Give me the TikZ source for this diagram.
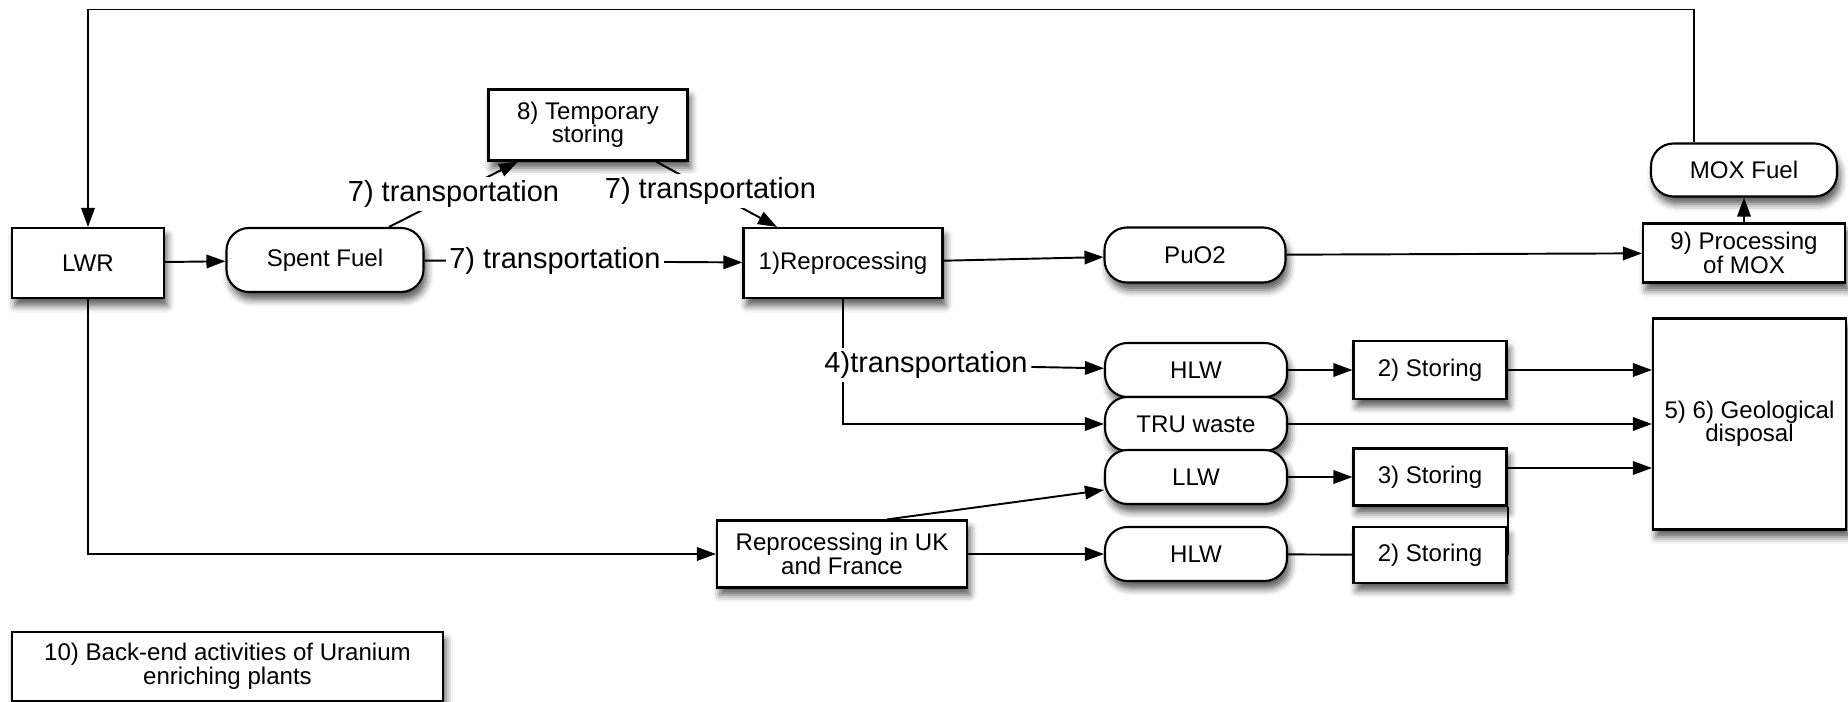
\documentclass[tikz,border=0pt]{standalone}
\usepackage{fontspec}
\setmainfont{Liberation Sans}
\usetikzlibrary{arrows.meta,shadows.blur}

\tikzset{
  box/.style={draw, fill=white, line width=1.2pt, align=center,
    font=\fontsize{13.7}{13.4}\selectfont,
    blur shadow={shadow xshift=0.06cm, shadow yshift=-0.15cm, shadow blur radius=0.14cm, shadow opacity=65}},
  pill/.style={box, rounded corners=0.45cm},
  lbl/.style={fill=white, inner sep=2pt, font=\fontsize{16.5}{18}\selectfont},
  flow/.style={line width=1.1pt, -{Triangle[length=0.38cm,width=0.27cm]}},
}

\begin{document}
\begin{tikzpicture}
        \useasboundingbox (0,0) rectangle (36.96,-14.04);
        % main line
        \node [box, minimum width=3.04cm, minimum height=1.4cm] (lwr) at (1.76,-5.26) {LWR};
        \node [pill, minimum width=3.94cm, minimum height=1.28cm] (sf) at (6.5,-5.2) {Spent Fuel};
        \node [box, minimum width=3.98cm, minimum height=1.42cm] (tmp) at (11.76,-2.5) {8) Temporary\\storing};
        \node [box, minimum width=3.98cm, minimum height=1.4cm] (rep) at (16.86,-5.26) {1)Reprocessing};
        \node [pill, minimum width=3.62cm, minimum height=1.1cm] (puo) at (23.9,-5.1) {PuO2};
        \node [box, minimum width=4.04cm, minimum height=1.18cm] (prc) at (34.88,-5.06) {9) Processing\\of MOX};
        \node [pill, minimum width=3.72cm, minimum height=1.06cm] (mox) at (34.88,-3.4) {MOX Fuel};
        % waste
        \node [box, minimum width=3.86cm, minimum height=4.22cm] (geo) at (34.99,-8.48) {5) 6) Geological\\disposal};
        \node [pill, minimum width=3.64cm, minimum height=1.08cm] (hlwa) at (23.92,-7.4) {HLW};
        \node [pill, minimum width=3.64cm, minimum height=1.08cm] (tru) at (23.92,-8.48) {TRU waste};
        \node [pill, minimum width=3.64cm, minimum height=1.08cm] (llw) at (23.92,-9.54) {LLW};
        \node [pill, minimum width=3.64cm, minimum height=1.08cm] (hlwb) at (23.92,-11.08) {HLW};
        \node [box, minimum width=3.06cm, minimum height=1.16cm] (stoa) at (28.6,-7.4) {2) Storing};
        \node [box, minimum width=3.06cm, minimum height=1.14cm] (stob) at (28.6,-9.54) {3) Storing};
        \node [box, minimum width=3.06cm, minimum height=1.12cm] (stoc) at (28.6,-11.1) {2) Storing};
        \node [box, minimum width=5cm, minimum height=1.34cm] (uk) at (16.84,-11.08) {Reprocessing in UK\\and France};
        \node [box, minimum width=8.62cm, minimum height=1.38cm] (bak) at (4.55,-13.33) {10) Back-end activities of Uranium\\enriching plants};

        \coordinate (loop) at (1.76,-0.19);
        \draw [flow] ([xshift=-1cm]mox.north) |- (loop) -- (lwr.north);
        \draw [flow] (lwr) -- (sf);
        \draw [flow] ([xshift=1.28cm]sf.north) -- node [lbl] {7) transportation} ([xshift=-1.4cm]tmp.south);
        \draw [flow] ([xshift=1.36cm]tmp.south) -- node [lbl, pos=0.45] {7) transportation} ([xshift=-1.32cm]rep.north);
        \draw [flow] (sf) -- node [lbl, pos=0.41] {7) transportation} (rep);
        \draw [flow] (rep) -- (puo);
        \draw [flow] (puo) -- (prc);
        \draw [flow] (prc) -- (mox);
        \draw [flow] (rep.south) |- (tru.west);
        \node [lbl] (trd) at (18.52,-7.3) {4)transportation};
        \draw [flow] (trd) -- (hlwa);
        \draw [flow] (hlwa) -- (stoa);
        \draw [flow] (stoa.east) -- (stoa.east -| geo.west);
        \draw [flow] (tru.east) -- (tru.east -| geo.west);
        \draw [flow] (llw) -- (stob);
        \draw [flow] ([yshift=0.18cm]stob.east) -- ([yshift=0.18cm]stob.east -| geo.west);
        \draw [line width=1.1pt] (stoc.east) -- (stob.south east);
        \draw [line width=1.1pt] (hlwb) -- (stoc);
        \draw [flow] (lwr.south) |- (uk.west);
        \draw [flow] ([xshift=0.9cm]uk.north) -- ([yshift=-0.26cm]llw.west);
        \draw [flow] (uk) -- (hlwb);
      \end{tikzpicture}
\end{document}
